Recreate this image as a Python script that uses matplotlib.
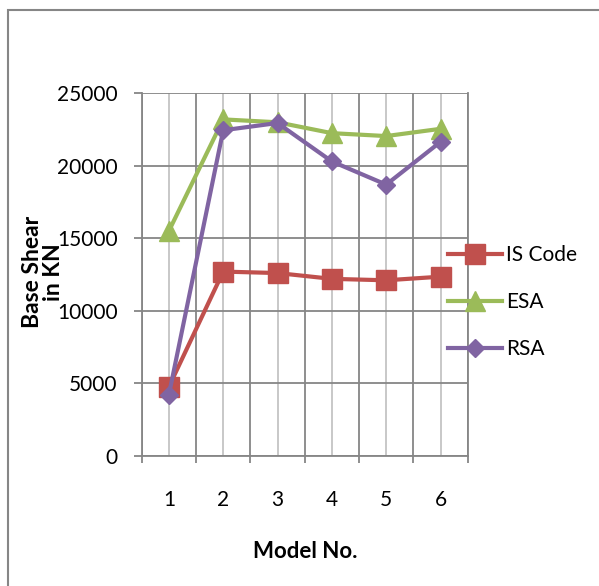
import matplotlib
matplotlib.use("Agg")
import matplotlib.pyplot as plt
from matplotlib.patches import Rectangle

models = [1, 2, 3, 4, 5, 6]
model_labels = ["1", "2", "3", "4", "5", "6"]
is_code = [4750, 12700, 12600, 12200, 12100, 12350]
esa = [15500, 23200, 23000, 22250, 22050, 22550]
rsa = [4200, 22450, 22950, 20300, 18700, 21650]
y_ticks = [0, 5000, 10000, 15000, 20000, 25000]

plt.rcParams['font.family'] = ['Lato', 'DejaVu Sans']

W, H = 599, 586
fig = plt.figure(figsize=(W / 100, H / 100), dpi=100)
# chart frame (runs off the right and bottom edge like the original)
fig.patches.append(Rectangle((8 / W, -0.1), 1.2, 1 - 10 / H + 0.1,
                             transform=fig.transFigure, fill=False,
                             edgecolor='#868686', linewidth=1.5))

ax = fig.add_axes([141.7 / W, 1 - 455.7 / H, 326 / W, 362.4 / H])

red = '#C0504D'
green = '#9BBB59'
purple = '#8064A2'

ax.plot(models, is_code, color=red, lw=3, marker='s', ms=14, label="IS Code", zorder=3)
ax.plot(models, esa, color=green, lw=3, marker='^', ms=14, label="ESA", zorder=3)
ax.plot(models, rsa, color=purple, lw=3, marker='D', ms=9.5, label="RSA", zorder=4)

ax.set_xlim(0.5, 6.5)
ax.set_ylim(0, 25000)
ax.set_yticks(y_ticks)
ax.set_xticks([x + 0.5 for x in [0] + models])
ax.set_xticklabels([])
ax.set_xticks(models, minor=True)
ax.set_xticklabels(model_labels, minor=True)

ax.grid(True, which='major', color='#868686', lw=1.3)
ax.grid(True, which='minor', axis='x', color='#C4C4C4', lw=1.3)
ax.set_axisbelow(True)

ax.spines['top'].set_visible(False)
for s in ['left', 'bottom', 'right']:
    ax.spines[s].set_color('#868686')
    ax.spines[s].set_linewidth(1.3)

ax.tick_params(axis='y', which='major', length=5.5, width=1.3, color='#868686',
               labelsize=15, pad=12)
ax.tick_params(axis='x', which='major', length=5, width=1.3, color='#868686', direction='out')
ax.tick_params(axis='x', which='minor', length=0, labelsize=15, pad=25)

fig.text(305 / W, 1 - 551 / H, "Model No.", fontweight='bold', fontsize=16,
         ha='center', va='center')
fig.text(43 / W, 1 - 272 / H, "Base Shear\nin KN", rotation=90, fontweight='bold',
         fontsize=16.5, ha='center', va='center', linespacing=0.95)

ax.legend(loc='center left', bbox_to_anchor=(448 / W, 1 - 302 / H),
          bbox_transform=fig.transFigure, frameon=False, fontsize=15,
          handlelength=2.6, labelspacing=1.3, handletextpad=0.2,
          borderaxespad=0, borderpad=0)

fig.savefig("out.png", dpi=100)
